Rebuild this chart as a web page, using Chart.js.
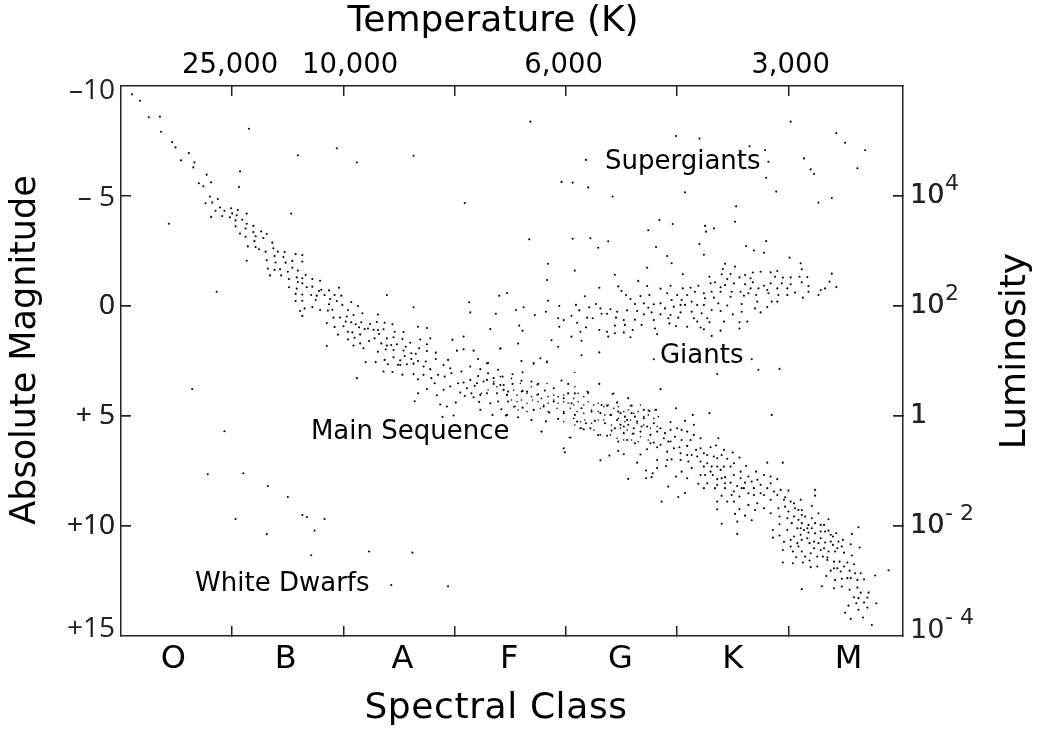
<!DOCTYPE html>
<html lang="en">
<head>
  <meta charset="UTF-8" />
  <title>Hertzsprung-Russell Diagram</title>
  <script src="https://cdn.jsdelivr.net/npm/chart.js"></script>
  <style>
    body { margin: 0; background: #fff; }
    canvas { display: block; }
  </style>
</head>
<body>
  <canvas id="hrChart" width="1038" height="731"></canvas>

  <script>
  // every star is [spectral class position (O = 0 .. M ends at 7), absolute magnitude]
  const upperMain = [[.10,-9.62],[.17,-9.33],[.25,-8.58],[.35,-8.61],[.36,-7.92],[.46,-7.45],[.49,-7.21],[.61,-6.95],[.54,-6.62],[.66,-6.53],[.65,-6.30],[1.15,-8.06],[1.59,-6.85],[1.94,-7.17],[2.12,-6.52],[2.63,-6.83],[1.07,-6.12],[.77,-5.97],[.81,-5.62],[.70,-5.58],[.74,-5.44],[1.06,-5.41],[.80,-4.98],[.87,-4.86],[.76,-4.67],[.82,-4.70],[3.09,-4.68],[.89,-4.48],[.85,-4.33],[.93,-4.33],[.99,-4.44],[1.05,-4.36],[1.13,-4.20],[1.53,-4.20],[.81,-4.05],[.91,-4.09],[.98,-4.03],[1.00,-4.21],[1.04,-4.12],[1.03,-3.89],[1.09,-3.92],[1.13,-3.74],[.43,-3.74],[1.03,-3.62],[1.12,-3.52],[1.19,-3.64],[1.07,-3.29],[1.19,-3.36],[1.26,-3.39],[1.31,-3.27],[1.21,-3.17],[1.12,-3.15],[1.28,-3.09],[1.36,-2.88],[1.20,-2.95],[1.14,-2.71],[1.21,-2.68],[1.24,-2.58],[1.37,-2.62],[1.41,-2.47],[1.47,-2.45],[1.30,-2.47],[1.38,-2.27],[1.46,-2.23],[1.57,-2.36],[1.63,-2.32],[1.13,-2.06],[1.31,-2.08],[1.39,-1.98],[1.48,-1.97],[1.54,-2.05],[1.63,-2.02],[1.32,-1.70],[1.38,-1.64],[1.43,-1.67],[1.50,-1.56],[1.54,-1.74],[1.59,-1.61],[1.34,-1.39],[1.44,-1.39],[1.66,-1.41],[1.72,-1.23],[1.51,-1.23],[1.58,-1.30],[1.63,-1.26],[1.59,-1.09],[1.79,-1.15],[1.51,-.85],[1.58,-.79],[1.67,-.85],[1.72,-.88],[1.63,-1.03],[.86,-.65],[1.87,-.71],[1.96,-.83],[1.80,-.74],[2.39,-.50],[1.57,-.55],[1.63,-.52],[1.71,-.50],[1.78,-.68],[1.83,-.50],[1.76,-.47],[1.92,-.50],[1.98,-.47],[1.57,-.23],[1.63,-.24],[1.75,-.27],[1.88,-.32],[1.94,-.23],[2.07,-.18],[3.13,-.17],[3.47,-.59],[3.40,-.47],[1.65,.11],[1.72,.05],[1.79,.18],[1.86,.21],[1.90,.17],[1.87,-.08],[1.99,-.05],[2.04,.18],[2.13,0],[2.63,.06],[1.61,.23],[1.63,.45],[3.14,.29],[3.37,.35],[1.91,.53],[1.97,.52],[2.03,.48],[2.09,.41],[2.17,.33],[2.31,.39],[1.85,.77],[1.92,.95],[2.02,.71],[2.07,.74],[2.11,.83],[2.16,.74],[2.24,.82],[2.30,.73],[2.37,.76],[2.44,.83],[2.67,.94],[2.75,1.00],[1.95,1.30],[2.00,.92],[2.04,1.17],[2.08,1.20],[2.14,.97],[2.19,1.05],[2.22,1.02],[2.27,1.08],[2.31,1.09],[2.36,1.06],[2.46,1.17],[2.54,1.18],[3.32,1.05],[2.04,1.52],[2.10,1.44],[2.15,1.29],[2.23,1.59],[2.28,1.47],[2.32,1.27],[2.39,1.47],[2.45,1.42],[2.53,1.50],[2.60,1.67],[2.69,1.52],[2.78,1.47],[2.98,1.53],[3.08,1.39],[2.09,1.80],[2.15,1.70],[2.18,1.92],[2.34,1.70],[2.39,1.80],[2.43,1.77],[2.48,1.74],[2.56,1.85],[2.68,1.92],[2.75,1.74],[1.85,1.82],[3.02,2.03],[3.08,1.97],[3.17,2.03],[3.41,1.94],[2.31,2.08],[2.38,1.98],[2.45,2.00],[2.54,2.02],[2.61,2.15],[2.65,2.17],[2.83,2.12],[2.75,2.05],[3.21,2.41],[3.30,2.59],[2.20,2.55],[2.29,2.55],[2.37,2.45],[2.45,2.33],[2.51,2.47],[2.55,2.27],[2.61,2.41],[2.67,2.50],[2.74,2.52],[2.83,2.41],[2.94,2.45],[2.40,2.65],[2.49,2.67],[2.57,2.65],[2.63,2.62]];

  const midMain = [[2.36,2.98],[2.44,3.00],[2.53,3.12],[2.51,2.68],[2.63,3.09],[2.67,3.33],[2.72,3.13],[2.79,3.28],[2.82,3.51],[2.85,3.13],[2.91,3.21],[2.97,3.06],[3.03,3.51],[3.08,3.48],[3.14,3.36],[3.20,3.51],[3.26,3.43],[3.35,3.28],[3.39,2.90],[3.41,3.59],[3.29,3.36],[2.90,3.81],[3.05,3.93],[3.09,4.09],[3.15,3.97],[3.23,4.04],[3.29,3.97],[3.38,3.97],[3.44,3.81],[3.47,4.04],[2.67,3.97],[2.75,3.77],[2.84,4.06],[2.64,4.33],[2.87,4.48],[2.93,4.57],[3.01,4.39],[3.17,4.15],[3.22,4.36],[3.32,4.42],[3.39,4.34],[3.23,4.72],[3.34,4.95],[3.42,4.69],[3.47,4.95],[2.89,5.04],[2.99,4.98],[3.48,4.34],[2.12,3.28],[2.90,2.68],[2.96,2.83],[3.06,2.98],[3.14,2.75],[3.23,2.87],[3.29,2.60],[2.78,2.87],[2.72,2.75],[3.21,3.18],[3.30,3.06],[3.35,3.54],[3.18,3.63],[3.11,3.74],[2.96,3.66]];

  const centreBand = [[3.53,3.82],[3.56,4.05],[3.60,3.89],[3.65,3.97],[3.69,4.12],[3.74,4.05],[3.78,4.20],[3.51,4.27],[3.56,4.35],[3.60,4.27],[3.65,4.42],[3.70,4.27],[3.75,4.35],[3.80,4.50],[3.84,4.42],[3.89,4.27],[3.93,4.12],[3.98,4.05],[4.02,3.97],[4.07,4.20],[4.11,3.97],[4.16,4.12],[4.20,3.97],[3.84,4.12],[3.89,4.05],[3.93,4.42],[3.98,4.35],[4.02,4.42],[4.07,4.50],[4.11,4.35],[4.16,4.50],[4.20,4.35],[4.25,4.50],[4.29,4.42],[4.34,4.58],[4.38,4.50],[4.43,4.65],[4.47,4.58],[4.52,4.80],[4.56,4.73],[4.61,4.88],[4.65,4.80],[4.70,5.03],[4.74,4.95],[4.79,5.11],[4.83,5.03],[3.53,4.58],[3.57,4.73],[3.65,4.80],[3.71,4.73],[3.77,4.65],[3.84,4.80],[3.92,4.65],[3.98,4.80],[4.04,4.65],[4.10,4.80],[4.16,4.88],[4.23,4.73],[4.29,4.80],[4.35,4.95],[4.41,4.95],[4.47,5.11],[4.53,5.26],[4.58,5.18],[4.64,5.33],[4.70,5.41],[4.76,5.56],[4.82,5.48],[3.69,5.18],[3.82,5.26],[3.98,5.26],[4.07,5.11],[4.13,5.26],[4.17,5.18],[4.23,5.33],[4.29,5.18],[4.34,5.18],[4.41,5.41],[4.49,5.56],[4.55,5.64],[4.61,5.79],[4.67,5.94],[4.74,6.09],[4.08,5.41],[4.14,5.56],[4.25,5.64],[4.31,5.86],[4.40,5.86],[4.46,6.01],[4.52,6.09],[4.59,6.09],[4.65,6.17],[3.78,5.71],[4.03,5.98],[3.83,3.52],[4.08,3.67],[3.74,3.59],[3.69,3.67],[3.59,3.52],[3.51,3.29],[3.41,3.21],[3.35,3.44],[3.30,3.82],[3.24,3.97],[3.38,3.67],[3.44,3.82],[3.47,4.05],[4.19,3.89],[4.30,3.52],[4.43,3.97],[4.46,4.38],[4.56,4.20],[4.58,4.53],[4.67,4.50],[4.74,4.73],[4.80,4.73],[4.08,3.02],[3.83,2.58],[3.71,2.64]];

  const denseBand = [[4.47,4.80],[4.53,5.03],[4.59,4.87],[4.64,5.25],[4.56,5.40],[4.49,5.40],[4.73,5.48],[4.82,5.71],[4.89,5.78],[5.00,5.56],[5.09,5.71],[5.15,5.86],[4.94,6.16],[5.04,6.09],[4.97,6.47],[4.85,6.31],[4.76,6.24],[4.91,7.00],[5.03,6.69],[5.13,6.77],[5.21,6.47],[5.27,6.77],[5.33,6.84],[5.40,6.77],[5.21,7.07],[5.31,7.30],[5.42,7.30],[5.51,7.15],[5.13,7.37],[5.25,7.68],[5.32,7.68],[5.40,7.83],[5.48,8.03],[5.36,8.13],[5.43,8.06],[5.58,8.28],[5.67,7.98],[5.75,8.51],[5.81,8.28],[5.69,8.59],[5.87,8.43],[5.96,8.81],[6.05,8.97],[6.09,9.27],[6.00,9.34],[6.03,9.87],[6.09,9.72],[6.15,9.57],[6.21,9.65],[6.11,10.10],[6.17,10.10],[6.21,10.10],[6.29,9.95],[6.33,10.25],[6.38,10.40],[6.11,10.40],[6.02,10.63],[6.19,10.78],[6.27,10.78],[6.32,11.01],[6.40,10.48],[6.45,10.71],[6.44,11.01],[6.09,10.93],[6.20,11.24],[6.26,11.39],[6.35,11.54],[6.41,11.92],[6.47,12.07]];

  const whiteDwarfs = [[.64,3.77],[.93,5.69],[.78,7.65],[1.10,7.60],[1.32,8.18],[1.50,8.68],[1.63,9.50],[1.67,9.59],[1.83,9.68],[1.03,9.68],[1.74,10.21],[1.31,10.37],[1.71,11.33],[2.23,11.16],[2.62,11.21],[2.43,12.68],[2.94,12.74]];

  const supergiants = [[3.68,-8.38],[4.99,-7.73],[5.20,-7.61],[6.02,-8.38],[6.43,-7.86],[6.51,-7.42],[6.69,-7.08],[5.65,-7.26],[5.79,-7.09],[4.18,-6.64],[5.82,-6.56],[6.14,-6.71],[6.20,-6.21],[6.23,-6.00],[6.62,-6.26],[3.96,-5.64],[4.06,-5.61],[4.20,-5.39],[5.80,-5.83],[4.42,-4.98],[5.07,-5.17],[5.89,-5.20],[6.27,-4.70],[6.39,-4.91],[5.53,-4.53],[4.84,-3.91],[4.96,-3.73],[5.52,-3.83],[4.74,-3.44],[5.25,-3.64],[5.26,-3.38],[5.33,-3.53],[3.67,-3.03],[4.06,-3.06],[4.22,-3.08],[4.38,-2.94],[4.29,-2.65],[4.81,-2.68],[5.20,-2.82],[5.80,-2.95],[5.62,-2.73],[5.69,-2.52],[5.78,-2.42],[5.24,-2.33],[4.91,-2.27],[3.84,-1.92],[4.95,-1.94],[6.01,-2.20],[6.11,-1.94],[6.12,-1.67],[4.73,-1.74],[4.08,-1.61],[5.43,-1.92],[5.52,-1.79],[5.41,-1.68],[5.05,-1.44],[4.44,-1.42],[3.83,-1.18],[6.39,-1.47]];

  const giants = [[5.29,-1.33],[5.48,-1.45],[5.40,-1.44],[5.61,-1.41],[5.68,-1.52],[5.75,-1.56],[5.84,-1.53],[5.90,-1.59],[5.45,-1.23],[5.56,-1.30],[5.66,-1.26],[5.88,-1.33],[5.95,-1.29],[6.02,-1.30],[6.10,-1.33],[6.17,-1.32],[4.65,-1.14],[4.30,-.83],[4.47,-.89],[4.50,-.68],[4.73,-.91],[4.85,-.79],[4.94,-.92],[5.05,-.80],[5.12,-.83],[5.19,-.92],[5.30,-1.03],[5.34,-1.08],[5.39,-.85],[5.43,-.95],[5.51,-1.03],[5.61,-.99],[5.68,-1.08],[5.78,-.92],[5.84,-1.03],[5.94,-1.03],[6.02,-.99],[6.12,-1.08],[6.18,-.91],[6.37,-1.11],[6.43,-.86],[6.33,-.80],[6.29,-.73],[6.18,-.65],[6.27,-.50],[6.06,-.61],[5.99,-.80],[5.90,-.80],[5.81,-.73],[5.73,-.80],[5.66,-.80],[5.57,-.65],[5.49,-.65],[5.39,-.65],[5.31,-.65],[5.24,-.58],[5.16,-.65],[5.09,-.50],[5.00,-.50],[4.91,-.58],[4.75,-.50],[4.67,-.45],[4.58,-.32],[4.54,-.50],[4.17,-.44],[3.84,-.24],[6.13,-.38],[5.99,-.50],[5.91,-.50],[5.82,-.58],[5.71,-.50],[5.64,-.58],[5.60,-.47],[5.48,-.42],[5.33,-.38],[5.25,-.35],[5.13,-.20],[5.04,-.27],[4.95,-.27],[4.85,-.12],[4.79,-.08],[4.70,-.12],[4.62,-.09],[4.27,-.09],[4.09,-.05],[3.94,0],[3.62,.06],[3.55,.18],[5.90,-.20],[5.85,-.20],[5.72,-.20],[5.58,-.09],[5.45,-.02],[5.37,-.12],[5.24,-.05],[5.18,-.05],[5.07,-.05],[5.03,-.05],[4.97,.03],[4.89,.11],[4.74,.08],[4.64,.23],[4.55,.20],[4.46,.26],[4.40,.15],[4.31,.11],[4.21,.06],[4.12,.20],[3.82,.26],[3.72,.41],[5.81,.05],[5.75,.29],[5.70,.11],[5.58,.26],[5.50,.38],[5.39,.23],[5.31,.18],[5.22,.33],[5.13,.26],[5.03,.29],[4.94,.41],[4.85,.38],[4.77,.29],[4.70,.38],[4.37,.35],[4.32,.35],[4.24,.56],[4.19,.53],[4.05,.44],[3.93,.56],[3.98,.64],[4.45,.53],[4.52,.64],[4.62,.62],[4.79,.64],[4.92,.56],[5.01,.53],[5.15,.56],[5.27,.56],[5.42,.71],[5.56,.74],[5.63,.71],[5.29,.74],[5.18,.71],[4.93,.79],[4.68,.86],[4.53,.86],[4.44,.89],[4.18,.97],[4.10,.76],[3.94,.94],[3.58,.89],[3.61,1.12],[4.30,1.09],[4.37,1.17],[4.44,1.24],[4.52,1.20],[4.60,1.09],[4.80,1.02],[4.99,.91],[5.09,.94],[5.21,.98],[5.24,1.06],[5.39,1.12],[5.56,1.02],[4.82,1.27],[5.31,1.36],[4.58,1.42],[4.38,1.39],[4.13,1.17],[4.05,1.39],[4.14,1.58],[3.87,1.56],[3.57,1.71],[3.93,1.85],[3.41,1.92],[4.14,2.24],[4.30,2.11],[4.79,2.42],[5.67,2.42],[3.77,2.38],[3.71,2.59],[3.83,2.53],[3.60,2.50]];

  const lowerMain = [[5.36,3.09],[5.92,2.86],[5.73,2.90],[4.85,3.78],[5.85,4.95],[5.29,4.87],[5.14,4.95],[4.99,4.65],[4.30,3.54],[3.98,6.47],[3.99,6.65],[4.31,7.01],[4.39,6.80],[4.47,6.59],[4.52,6.74],[4.64,7.12],[4.56,7.86],[4.72,7.48],[4.72,7.83],[4.78,7.60],[4.77,7.78],[4.82,7.37],[4.90,7.27],[4.92,8.21],[4.86,8.89],[5.01,8.68],[5.07,8.50],[5.36,9.24],[5.40,9.90],[5.54,10.36],[5.52,9.45],[5.54,9.80],[5.61,9.53],[5.67,9.74],[5.81,7.12],[5.95,7.12],[6.24,8.36],[6.24,8.62],[6.63,10.06],[6.57,10.36],[6.64,10.98],[6.78,12.25],[6.90,12.01],[6.12,12.87],[6.30,12.74],[6.41,12.83],[6.48,12.75],[6.79,13.51],[6.75,14.50],[6.67,14.16],[6.56,14.22],[6.51,13.94],[6.54,13.62],[6.63,13.81],[6.71,13.71],[6.68,13.48],[6.61,13.51],[6.59,13.24],[6.63,13.28],[6.71,13.25],[6.72,13.03],[6.65,13.03],[6.62,12.80],[6.55,12.90],[6.68,12.42],[6.62,12.45],[6.56,12.37],[6.53,12.37],[6.48,12.40],[6.42,12.45],[6.38,12.03],[6.34,12.27],[6.55,12.03],[6.60,12.15],[6.65,12.15],[6.59,11.74],[6.53,11.66],[6.46,11.62],[6.44,11.92],[6.50,11.84],[5.95,11.66],[6.04,11.69],[6.13,11.66],[6.20,11.87],[6.26,11.84],[6.19,11.57],[6.31,11.39],[6.35,11.43],[6.41,11.62],[6.57,11.34],[6.56,10.83],[6.49,10.63],[6.48,10.93],[6.50,11.21],[6.42,11.16],[6.36,11.16],[6.29,11.09],[6.23,11.01],[6.15,11.39],[6.07,11.42],[6.12,11.16],[6.04,11.16],[6.02,10.93],[5.95,11.09],[5.96,10.72],[6.08,10.78],[6.12,10.63],[6.17,10.56],[6.23,10.71],[6.29,10.56],[6.33,10.75],[6.38,10.71],[6.43,10.33],[6.36,10.21],[6.32,9.95],[6.40,10.86],[6.05,10.48],[5.99,10.18],[5.92,9.92],[5.92,10.43],[5.86,10.53],[5.86,10.18],[6.08,10.10],[6.14,10.18],[6.18,10.30],[6.24,10.33],[6.29,10.25],[6.12,9.87],[6.18,9.95],[6.24,9.87],[6.36,9.69],[6.27,9.42],[6.21,9.09],[6.12,9.50],[6.05,9.57],[5.99,9.65],[5.92,9.57],[6.06,9.19],[6.11,8.81],[6.12,9.27],[6.02,8.89],[5.97,9.12],[5.91,9.19],[5.84,9.42],[5.78,9.19],[5.70,9.27],[5.72,8.97],[5.64,9.04],[5.56,9.24],[5.49,8.59],[5.45,8.89],[5.40,8.63],[5.36,8.89],[6.00,8.39],[5.93,8.36],[5.97,8.69],[5.90,8.59],[5.84,8.81],[5.78,8.59],[5.84,8.06],[5.75,8.13],[5.69,8.28],[5.64,8.51],[5.56,8.66],[5.54,8.18],[5.61,8.03],[5.51,8.43],[5.43,8.28],[5.34,8.28],[5.24,8.28],[5.19,8.08],[5.27,8.06],[5.36,7.87],[5.43,7.78],[5.51,7.68],[5.57,7.83],[5.64,7.75],[5.71,7.53],[5.78,7.68],[5.84,7.75],[5.90,7.87],[5.62,7.27],[5.56,6.89],[5.50,6.66],[5.42,6.54],[5.37,6.01],[5.35,6.34],[5.45,6.94],[5.36,6.92],[5.27,7.15],[5.48,7.30],[5.39,7.45],[5.30,7.53],[5.21,7.68],[5.09,7.83],[5.04,7.53],[4.99,7.75],[5.03,7.00],[5.10,7.07],[5.18,6.84],[5.24,6.69],[5.17,6.54],[5.09,6.36],[5.30,6.42],[5.21,6.01],[5.12,6.09],[5.04,5.63],[5.15,5.40],[5.07,5.22],[4.94,5.27],[4.98,5.94],[4.92,6.16],[4.85,5.56],[4.88,6.01],[4.82,6.42],[4.73,6.51],[4.91,6.62],[4.82,7.00],[4.67,6.75],[4.62,6.24],[4.55,6.09],[4.47,6.16],[4.37,5.90],[4.29,5.87],[4.44,5.56],[4.52,5.48],[4.61,5.56],[4.68,5.48],[4.79,5.33],[4.75,4.77],[4.70,4.72],[4.81,4.72],[4.59,4.53],[4.56,4.19],[4.46,4.39],[4.42,4.00],[4.37,4.53],[4.32,4.50],[4.49,4.87],[4.40,4.95],[4.31,4.87],[4.23,4.80],[4.14,4.65],[4.05,4.42],[4.20,3.92],[4.08,3.97],[4.02,3.54],[3.96,3.39],[3.89,3.74],[3.81,3.84],[3.75,3.54],[3.69,3.43],[3.61,3.01],[3.52,3.10],[3.60,3.40],[3.52,3.54],[3.44,3.59],[3.43,3.21],[3.48,3.89],[3.61,3.86],[3.65,3.89],[3.75,4.01],[3.89,4.34],[3.98,4.19],[4.02,3.97],[3.80,4.57],[3.71,4.72],[3.61,4.62],[3.54,4.57],[3.46,4.98],[3.57,5.06],[3.69,5.18],[3.85,4.84],[3.93,5.13],[3.78,5.71],[3.82,5.24],[4.04,5.98],[4.13,5.56],[4.10,5.25],[4.18,5.33],[4.26,5.22],[4.35,5.33],[4.08,4.95],[3.98,4.87],[4.22,5.56],[4.16,5.60],[4.62,5.03],[4.70,5.10],[4.46,5.18],[4.55,5.18],[4.67,5.71],[4.76,5.86],[4.60,5.81],[4.52,5.78],[4.94,5.63],[4.41,5.66],[4.79,6.21],[5.02,6.42],[5.09,6.77],[4.95,6.97],[5.24,7.30],[5.36,7.30],[5.57,7.53],[5.72,7.90],[5.60,8.28],[5.51,8.89]];

  const classBoundaries = [1, 2, 3, 4, 5, 6];
  const classNames = ['O', 'B', 'A', 'F', 'G', 'K', 'M'];
  const classNameAt = [0.47, 1.48, 2.53, 3.49, 4.49, 5.5, 6.54];
  const tempLabels = ['25,000', '10,000', '6,000', '3,000'];
  const tempLabelAt = [0.98, 2.06, 3.98, 6.02];
  const magTicks = [-5, 0, 5, 10];
  const magLabels = ['\u201310', '\u2013 5', '0', '+ 5', '+10', '+15'];
  const magLabelAt = [-9.77, -4.9, 0, 5, 10, 14.68];
  const lumLabelAt = [-5, 0, 5, 10, 14.75];
  const lumBases = ['10', '10', '1', '10', '10'];
  const lumExponents = ['4', '2', '', '- 2', '- 4'];
  const regionNames = ['Supergiants', 'Giants', 'Main Sequence', 'White Dwarfs'];
  const regionClass = [5.05, 5.22, 2.6, 1.45];
  const regionMag = [-6.55, 2.27, 5.73, 12.64];

  const FONT = '"DejaVu Sans", sans-serif';
  const INK = '#222';

  // inward tick marks only at the listed values, label-only ticks stay invisible
  function tickColor(marks) {
    return ctx => marks.includes(ctx.tick && ctx.tick.value) ? INK : 'rgba(0,0,0,0)';
  }

  function sideTitle(c, text, x, y, size) {
    c.save();
    c.translate(x, y);
    c.rotate(-Math.PI / 2);
    c.font = size + 'px ' + FONT;
    c.fillText(text, 0, 0);
    c.restore();
  }

  const textPlugin = {
    id: 'hrText',
    afterDraw(chart) {
      const c = chart.ctx;
      const { x, y } = chart.scales;
      c.save();
      c.fillStyle = '#000';
      c.textAlign = 'center';
      c.textBaseline = 'middle';

      c.font = '26px ' + FONT;
      regionNames.forEach((name, i) => {
        c.fillText(name, x.getPixelForValue(regionClass[i]), y.getPixelForValue(regionMag[i]));
      });

      c.font = '36px ' + FONT;
      c.fillText('Temperature (K)', 493, 22);
      c.letterSpacing = '0.6px';
      c.fillText('Spectral Class', 496, 709);
      c.letterSpacing = '0px';
      sideTitle(c, 'Absolute Magnitude', 26, 350, 35);
      sideTitle(c, 'Luminosity', 1016, 351, 36);

      // raised exponents next to the "10" tick labels on the right axis
      c.fillStyle = '#222';
      c.textAlign = 'left';
      c.font = '22px ' + FONT;
      lumExponents.forEach((exp, i) => {
        c.fillText(exp, 945, y.getPixelForValue(lumLabelAt[i]) - 12);
      });
      c.restore();
    }
  };

  const stars = [upperMain, midMain, centreBand, denseBand, whiteDwarfs, supergiants, giants, lowerMain];

  new Chart(document.getElementById('hrChart'), {
    type: 'scatter',
    data: {
      datasets: stars.map(group => ({
        data: group.map(s => ({ x: s[0], y: s[1] })),
        backgroundColor: '#000',
        borderWidth: 0,
        pointRadius: group === centreBand ? 0.8 : 1.05
      }))
    },
    options: {
      responsive: false,
      animation: false,
      layout: { padding: 0 },
      plugins: { legend: { display: false }, tooltip: { enabled: false } },
      scales: {
        x: {
          type: 'linear',
          position: 'bottom',
          min: 0,
          max: 7.03,
          afterBuildTicks: s => { s.ticks = classBoundaries.concat(classNameAt).map(v => ({ value: v })); },
          afterFit: s => { s.height = 95; },
          border: { color: INK, width: 1.5 },
          grid: { drawOnChartArea: false, tickLength: -10, lineWidth: 1.5, color: tickColor(classBoundaries) },
          ticks: {
            autoSkip: false,
            maxRotation: 0,
            padding: 14,
            color: '#000',
            font: { family: FONT, size: 32 },
            callback: v => { const i = classNameAt.indexOf(v); return i < 0 ? '' : classNames[i]; }
          }
        },
        xTop: {
          type: 'linear',
          position: 'top',
          min: 0,
          max: 7.03,
          afterBuildTicks: s => { s.ticks = classBoundaries.concat(tempLabelAt).map(v => ({ value: v })); },
          afterFit: s => { s.height = 86; },
          border: { color: INK, width: 1.5 },
          grid: { drawOnChartArea: false, tickLength: -10, lineWidth: 1.5, color: tickColor(classBoundaries) },
          ticks: {
            autoSkip: false,
            maxRotation: 0,
            padding: 13.5,
            color: '#000',
            font: { family: FONT, size: 27.5 },
            callback: v => { const i = tempLabelAt.indexOf(v); return i < 0 ? '' : tempLabels[i]; }
          }
        },
        y: {
          type: 'linear',
          position: 'left',
          reverse: true,
          min: -10,
          max: 15,
          afterBuildTicks: s => { s.ticks = magTicks.concat(magLabelAt).map(v => ({ value: v })); },
          afterFit: s => { s.width = 121; },
          border: { color: INK, width: 1.5 },
          grid: { drawOnChartArea: false, tickLength: -10, lineWidth: 1.5, color: tickColor(magTicks) },
          ticks: {
            autoSkip: false,
            padding: 16,
            color: '#222',
            font: { family: '"Open Sans", sans-serif', size: 28 },
            callback: v => { const i = magLabelAt.indexOf(v); return i < 0 ? '' : magLabels[i]; }
          }
        },
        yRight: {
          type: 'linear',
          position: 'right',
          reverse: true,
          min: -10,
          max: 15,
          afterBuildTicks: s => { s.ticks = magTicks.concat(lumLabelAt).map(v => ({ value: v })); },
          afterFit: s => { s.width = 135; },
          border: { color: INK, width: 1.5 },
          grid: { drawOnChartArea: false, tickLength: -10, lineWidth: 1.5, color: tickColor(magTicks) },
          ticks: {
            autoSkip: false,
            padding: 17,
            color: '#222',
            font: { family: FONT, size: 27 },
            callback: v => { const i = lumLabelAt.indexOf(v); return i < 0 ? '' : lumBases[i]; }
          }
        }
      }
    },
    plugins: [textPlugin]
  });
  </script>
</body>
</html>
